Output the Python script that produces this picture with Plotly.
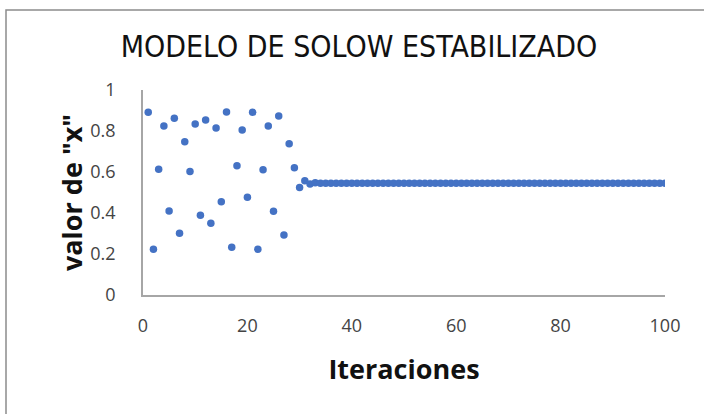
import plotly.graph_objects as go

iteraciones = list(range(1, 101))
valores_iniciales = [0.891, 0.223, 0.613, 0.824, 0.410, 0.862, 0.301, 0.748, 0.603, 0.834,
                     0.389, 0.854, 0.350, 0.815, 0.455, 0.893, 0.233, 0.631, 0.805, 0.477,
                     0.891, 0.223, 0.611, 0.824, 0.408, 0.873, 0.293, 0.738, 0.621, 0.525,
                     0.557, 0.541, 0.548]
valor_estable = 0.545
valores = valores_iniciales + [valor_estable] * (100 - len(valores_iniciales))

y_ticks = [0, 0.2, 0.4, 0.6, 0.8, 1]
y_tick_labels = ["0", "0.2", "0.4", "0.6", "0.8", "1"]
x_ticks = [0, 20, 40, 60, 80, 100]

fig = go.Figure()
fig.add_trace(go.Scatter(
    x=iteraciones, y=valores, mode="markers",
    marker=dict(color="#4472C4", size=7.5),
    showlegend=False, hoverinfo="x+y",
))

L, R, T, B = 143, 39, 90, 119
W, H = 704, 414
pw, ph = W - L - R, H - T - B

fig.update_layout(
    width=W, height=H,
    margin=dict(l=L, r=R, t=T, b=B),
    paper_bgcolor="white", plot_bgcolor="white",
    title=dict(text="MODELO DE SOLOW ESTABILIZADO", x=359 / W, xanchor="center",
               y=1 - 46 / H, yanchor="middle",
               font=dict(family="Liberation Sans Narrow, DejaVu Sans Condensed, Arial Narrow",
                         size=30, color="#111111")),
    xaxis=dict(range=[0, 100], tickvals=x_ticks, showgrid=False, zeroline=False,
               showline=True, linecolor="#a6a6a6", linewidth=1.5, ticks="",
               ticklabelstandoff=14,
               tickfont=dict(family="Open Sans", size=18, color="#444444"),
               title=dict(text="<b>Iteraciones</b>", standoff=24,
                          font=dict(family="Open Sans", size=27, color="#111111"))),
    yaxis=dict(range=[0, 1], tickvals=y_ticks, ticktext=y_tick_labels, showgrid=False,
               zeroline=False, showline=True, linecolor="#a6a6a6", linewidth=1.5, ticks="",
               ticklabelstandoff=22,
               tickfont=dict(family="Open Sans", size=18, color="#444444"),
               title=dict(text='<b>valor de "x"</b>', standoff=0,
                          font=dict(family="Open Sans", size=27, color="#111111"))),
)

# chart border (outer frame)
fig.add_shape(type="rect", xref="paper", yref="paper",
              x0=(6 - L) / pw, x1=(W + 10 - L) / pw,
              y0=(H - B - (H + 10)) / ph, y1=(H - B - 10) / ph,
              line=dict(color="#8c8c8c", width=1.5), fillcolor="rgba(0,0,0,0)", layer="below")

fig.write_html("out.html", config={"displayModeBar": False},
               post_script="document.body.style.margin='0';")
